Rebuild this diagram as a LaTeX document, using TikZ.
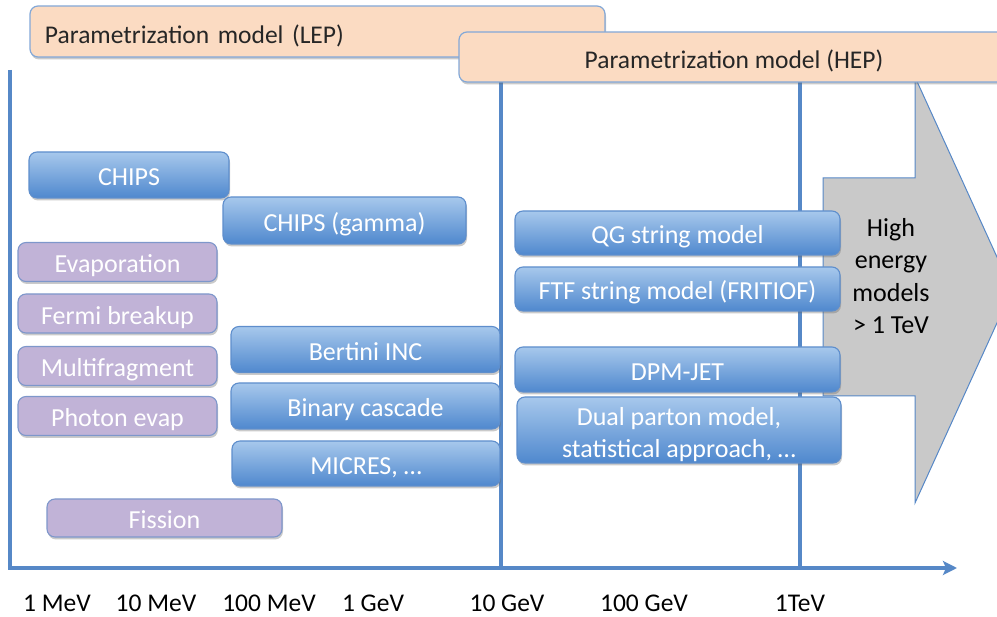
\documentclass[tikz,border=0pt]{standalone}
\usepackage{fontspec}
\setmainfont{Carlito}
\usetikzlibrary{shadows,arrows.meta}
\definecolor{axisblue}{HTML}{5688C7}
\definecolor{btop}{HTML}{A7C8EC}
\definecolor{bbot}{HTML}{4F88CE}
\definecolor{bborder}{HTML}{5E8ECC}
\definecolor{pfill}{HTML}{C1B3D7}
\definecolor{pborder}{HTML}{7E97CB}
\definecolor{peach}{HTML}{FBDBC2}
\definecolor{peachborder}{HTML}{82A8D8}
\definecolor{arrowgray}{HTML}{C9C9C9}
\tikzset{
  myshadow/.style={drop shadow={shadow xshift=1pt, shadow yshift=-2.5pt, opacity=0.35, fill=black!60}},
  boxtext/.style={font=\fontsize{26}{32.5}\selectfont, text height=24pt, text depth=2pt},
  bluebox/.style={rounded corners=8pt, draw=bborder, line width=1.1pt, top color=btop, bottom color=bbot,
    text=white, myshadow, inner sep=0pt, align=center, boxtext},
  purplebox/.style={rounded corners=8pt, draw=pborder, line width=1.1pt, fill=pfill,
    text=white, myshadow, inner sep=0pt, align=center, minimum width=199pt, minimum height=39pt, boxtext},
  peachbox/.style={rounded corners=8pt, draw=peachborder, line width=1.2pt, fill=peach,
    text=black!85, myshadow, inner sep=0pt, font=\fontsize{25.5}{30}\selectfont, text height=26pt, text depth=2pt},
  axisline/.style={draw=axisblue, line width=3.5pt},
  gridline/.style={draw=axisblue, line width=3.2pt},
  axislabel/.style={text=black, inner sep=0pt},
}
\begin{document}
\begin{tikzpicture}[x=1pt,y=-1pt,font=\fontsize{25.5}{32.5}\selectfont]
\useasboundingbox (0,0) rectangle (997,617);
\clip (0,0) rectangle (997,617);
% axes
\coordinate (ytop) at (10,70);
\coordinate (orig) at (10,568);
\coordinate (xend) at (957,568);
\draw[axisline, -{Stealth[length=14pt,width=14pt,inset=3pt]}] (ytop) -- (orig) -- (xend);
\coordinate (v1t) at (501,82);
\coordinate (v1b) at (501,568);
\coordinate (v2t) at (800,82);
\coordinate (v2b) at (800,568);
\draw[gridline] (v1t) -- (v1b);
\draw[gridline] (v2t) -- (v2b);
% big gray arrow
\draw[fill=arrowgray, draw=axisblue, line width=1pt]
  (823,178) -- (915,178) -- (915,77) -- (1012,290) -- (915,503) -- (915,396) -- (823,396) -- cycle;
\node[align=center, text=black, inner sep=0pt, font=\fontsize{26}{32.5}\selectfont] (he) at (891,276) {High\\energy\\models\\> 1 TeV};
% parametrization boxes
\node[peachbox, minimum height=51pt, text width=545pt, inner xsep=15pt, align=left] (lep) at (317.5,31.5) {Parametrization model (LEP)};
\node[peachbox, minimum height=50pt, minimum width=550pt, align=center] (hep) at (734,57) {Parametrization model (HEP)};
% low energy models
\node[bluebox, minimum width=200pt, minimum height=46pt] (chips) at (129,175) {CHIPS};
\node[bluebox, minimum width=243pt, minimum height=47pt] (chipsg) at (344.5,220.5) {CHIPS (gamma)};
\node[purplebox] (evap) at (117.5,262) {Evaporation};
\node[purplebox] (fermi) at (117.5,313.5) {Fermi breakup};
\node[purplebox] (multi) at (117.5,366) {Multifragment};
\node[purplebox] (photon) at (117.5,416) {Photon evap};
\node[purplebox, minimum width=235pt, minimum height=38pt] (fission) at (164.5,518) {Fission};
\node[bluebox, minimum width=269pt, minimum height=46pt] (bertini) at (365.5,349.5) {Bertini INC};
\node[bluebox, minimum width=269pt, minimum height=46pt] (binary) at (365.5,406) {Binary cascade};
\node[bluebox, minimum width=268pt, minimum height=45pt] (micres) at (366,463.5) {MICRES, \dots};
% high energy models
\node[bluebox, minimum width=325pt, minimum height=44pt] (qg) at (677.5,233) {QG string model};
\node[bluebox, minimum width=325pt, minimum height=44pt] (ftf) at (677.5,289) {FTF string model (FRITIOF)};
\node[bluebox, minimum width=325pt, minimum height=45pt] (dpm) at (677.5,369.5) {DPM-JET};
\node[bluebox, minimum width=324pt, minimum height=66pt, text height=24pt, text depth=1.7pt] (dual) at (679,430)
  {\begin{tabular}{@{}c@{}}Dual parton model,\\statistical approach, \dots\end{tabular}};
% axis labels
\node[axislabel] (l1) at (57,603.5) {1 MeV};
\node[axislabel] (l2) at (156,603.5) {10 MeV};
\node[axislabel] (l3) at (269,603.5) {100 MeV};
\node[axislabel] (l4) at (373,603.5) {1 GeV};
\node[axislabel] (l5) at (507,603.5) {10 GeV};
\node[axislabel] (l6) at (644,603.5) {100 GeV};
\node[axislabel] (l7) at (800,603.5) {1TeV};
\end{tikzpicture}
\end{document}
